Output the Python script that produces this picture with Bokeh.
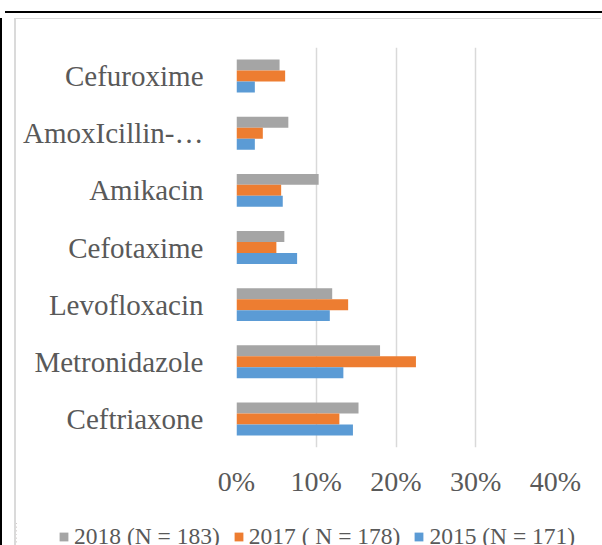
from bokeh.plotting import figure
from bokeh.layouts import column
from bokeh.models import (FactorRange, Range1d, NumeralTickFormatter, Legend, LegendItem,
                          FixedTicker, ColumnDataSource, Div)
from bokeh.transform import dodge
from bokeh.embed import file_html
from bokeh.resources import INLINE

# ---- data (bottom to top) ----
categories = ["Ceftriaxone", "Metronidazole", "Levofloxacin", "Cefotaxime",
              "Amikacin", "AmoxIcillin-…", "Cefuroxime"]
share_2018 = [0.153, 0.180, 0.120, 0.060, 0.103, 0.065, 0.054]
share_2017 = [0.129, 0.225, 0.140, 0.050, 0.056, 0.033, 0.061]
share_2015 = [0.146, 0.134, 0.117, 0.076, 0.058, 0.023, 0.023]
series_labels = ["2018 (N = 183)", "2017 ( N = 178)", "2015 (N = 171)"]
series_colors = ["#a5a5a5", "#ed7d31", "#5b9bd5"]
x_ticks = [0, 0.1, 0.2, 0.3, 0.4]

FONT = "Liberation Serif"
TXT = "#595959"

src = ColumnDataSource(dict(cat=categories, s2018=share_2018, s2017=share_2017, s2015=share_2015))
fields = ["s2018", "s2017", "s2015"]

p = figure(width=585, height=502, output_backend="svg", toolbar_location=None,
           y_range=FactorRange(factors=categories), x_range=Range1d(0, 0.4),
           min_border_left=220, min_border_right=46, min_border_top=28, min_border_bottom=74)
p.outline_line_color = None
p.frame_align = False

bh = 0.192
offsets = [bh, 0.0, -bh]
for f, off, col in zip(fields, offsets, series_colors):
    p.hbar(y=dodge("cat", off, range=p.y_range), right=f, left=0, height=bh,
           source=src, fill_color=col, line_color=None)

p.xaxis.ticker = FixedTicker(ticks=x_ticks)
p.xaxis.formatter = NumeralTickFormatter(format="0%")
p.xaxis.axis_line_color = None
p.xaxis.major_tick_line_color = None
p.xaxis.minor_tick_line_color = None
p.xaxis.major_label_text_font = FONT
p.xaxis.major_label_text_font_size = "28px"
p.xaxis.major_label_text_color = TXT
p.xaxis.major_label_standoff = 12

p.yaxis.axis_line_color = None
p.yaxis.major_tick_line_color = None
p.yaxis.major_label_text_font = FONT
p.yaxis.major_label_text_font_size = "29px"
p.yaxis.major_label_text_color = TXT
p.yaxis.major_label_standoff = 27

p.xgrid.ticker = FixedTicker(ticks=x_ticks)
p.xgrid.grid_line_color = "#d9d9d9"
p.xgrid.grid_line_width = 1.5
p.ygrid.grid_line_color = None

# legend strip: a small figure whose frame is the whole strip; its bars lie outside its x range
lf = figure(width=585, height=26, output_backend="svg", toolbar_location=None,
            x_range=Range1d(1, 2), y_range=FactorRange(factors=categories),
            min_border=0, min_border_left=0, min_border_right=0, min_border_top=0, min_border_bottom=0)
lf.frame_align = False
lf.axis.visible = False
lf.grid.grid_line_color = None
lf.outline_line_color = None
items = []
for f, lab, col in zip(fields, series_labels, series_colors):
    r = lf.hbar(y="cat", right=f, left=0, height=0.2, source=src, fill_color=col, line_color=None)
    items.append(LegendItem(label=lab, renderers=[r]))
legend = Legend(items=items, orientation="horizontal", location=(42, -3),
                glyph_width=11, glyph_height=11, label_standoff=5, spacing=13,
                padding=0, margin=0, border_line_alpha=0, background_fill_alpha=0,
                label_text_font=FONT, label_text_font_size="23.5px", label_text_color=TXT)
lf.add_layout(legend)

inner = column(p, lf, spacing=0,
               styles={"margin-left": "12px", "border-left": "2px solid #dadada",
                       "border-top": "1px solid #dadada"})
framed = column(inner, spacing=0, styles={"border-left": "2px solid black"})
top_rule = Div(text="", width=600, height=8, styles={"border-bottom": "2px solid black"})
layout = column(top_rule, framed, spacing=0, styles={"margin-bottom": "-8px"})

open("out.html", "w").write(file_html(layout, INLINE))
